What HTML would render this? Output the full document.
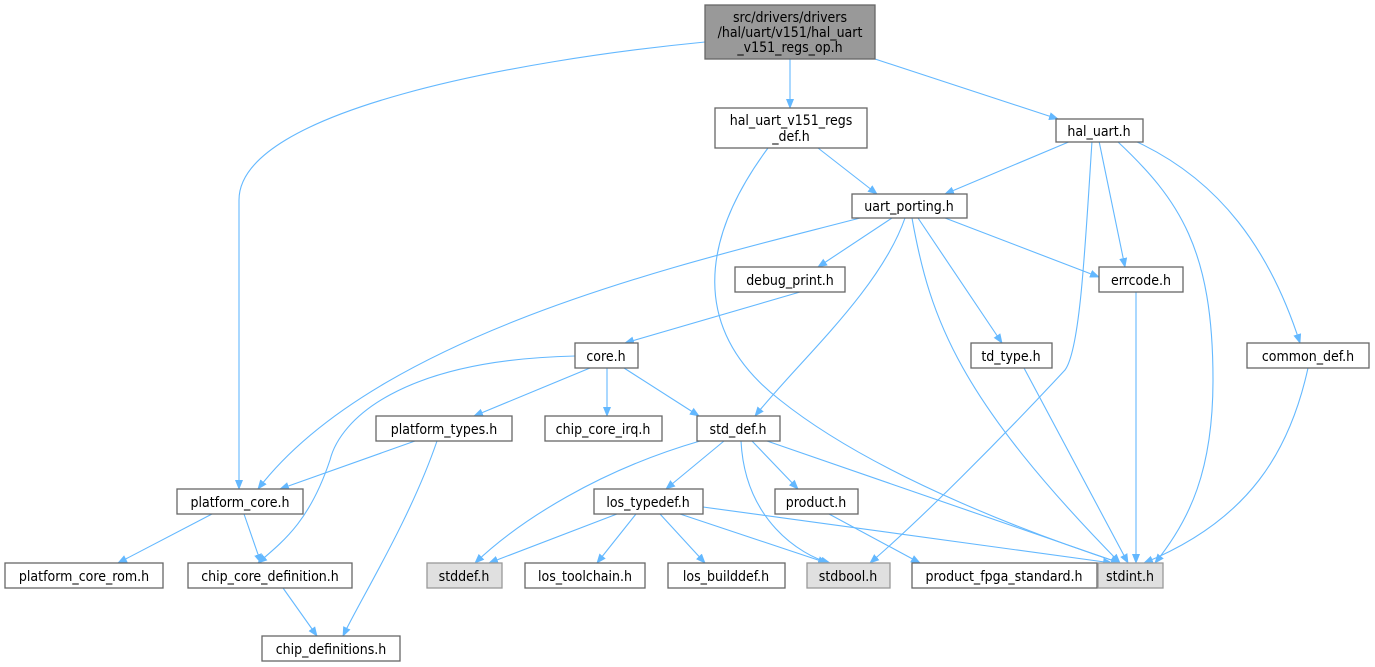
<!DOCTYPE html>
<html><head><meta charset="utf-8"><style>
html,body{margin:0;padding:0;background:#fff;}
svg{display:block;}
text{font-family:"DejaVu Sans Condensed","DejaVu Sans","Liberation Sans",sans-serif;font-size:14px;fill:#000;}
.n{fill:#fff;stroke:#666;stroke-width:1.3;}
.e{fill:none;stroke:#63b8ff;stroke-width:1.1;}
</style></head><body>
<svg width="1375" height="667" viewBox="0 0 1375 667" xmlns="http://www.w3.org/2000/svg">
<defs><marker id="a" markerWidth="10" markerHeight="10" refX="9" refY="5" orient="auto" markerUnits="userSpaceOnUse"><path d="M0,1 L10,5 L0,9 z" fill="#63b8ff"/></marker></defs>
<g class="e" marker-end="url(#a)">
<path d="M705,42 C520,60 239,110 239,200 L239,489"/>
<path d="M790,59 L790,108"/>
<path d="M875,59 L1058,119"/>
<path d="M818,148 L877,194"/>
<path d="M768,148 C700,240 690,330 780,400 C880,480 1050,540 1120,563"/>
<path d="M1071,141 L945,194"/>
<path d="M1099,141 L1125,267"/>
<path d="M1092,141 C1085,250 1080,350 1065,370 C1000,440 920,520 870,563"/>
<path d="M1117,141 C1180,200 1213,250 1213,380 C1213,470 1190,520 1155,563"/>
<path d="M1135,141 C1220,180 1270,250 1300,343"/>
<path d="M860,218 C700,260 380,330 258,489"/>
<path d="M892,218 L818,267"/>
<path d="M905,218 C880,290 800,360 755,416"/>
<path d="M918,218 L1002,343"/>
<path d="M912,218 C930,320 960,400 1120,563"/>
<path d="M945,218 L1099,277"/>
<path d="M800,292 L625,343"/>
<path d="M1136,292 L1136,563"/>
<path d="M1024,368 L1128,563"/>
<path d="M1308,368 C1290,450 1250,520 1144,563"/>
<path d="M575,356 C400,360 340,420 330,460 C310,520 285,540 258,563"/>
<path d="M590,368 L474,416"/>
<path d="M607,368 L607,416"/>
<path d="M624,368 L699,416"/>
<path d="M415,441 L280,489"/>
<path d="M437,441 C410,520 360,600 343,636"/>
<path d="M212,514 L118,563"/>
<path d="M244,514 L261,563"/>
<path d="M283,588 L317,636"/>
<path d="M700,441 C600,470 520,520 475,563"/>
<path d="M724,441 L666,489"/>
<path d="M741,441 C745,520 800,555 830,563"/>
<path d="M752,441 L798,489"/>
<path d="M767,441 L1120,563"/>
<path d="M617,514 L489,563"/>
<path d="M636,514 L597,563"/>
<path d="M660,514 L705,563"/>
<path d="M680,514 L827,563"/>
<path d="M703,507 L1112,563"/>
<path d="M829,514 L920,563"/>
</g>
<rect x="705" y="5" width="170" height="54" fill="#999" stroke="#666" stroke-width="1.3"/>
<text x="790" y="22" text-anchor="middle">src/drivers/drivers</text>
<text x="790" y="37" text-anchor="middle">/hal/uart/v151/hal_uart</text>
<text x="790" y="52" text-anchor="middle">_v151_regs_op.h</text>
<rect class="n" x="715" y="108" width="152" height="40"/>
<text x="791" y="125" text-anchor="middle">hal_uart_v151_regs</text>
<text x="791" y="141" text-anchor="middle">_def.h</text>
<g text-anchor="middle">
<rect class="n" x="1056" y="119" width="87" height="23"/><text x="1099" y="136">hal_uart.h</text>
<rect class="n" x="852" y="194" width="115" height="24"/><text x="909" y="211">uart_porting.h</text>
<rect class="n" x="735" y="267" width="110" height="25"/><text x="790" y="285">debug_print.h</text>
<rect class="n" x="1099" y="267" width="84" height="25"/><text x="1141" y="285">errcode.h</text>
<rect class="n" x="575" y="343" width="63" height="25"/><text x="606" y="361">core.h</text>
<rect class="n" x="971" y="343" width="81" height="25"/><text x="1011" y="361">td_type.h</text>
<rect class="n" x="1247" y="343" width="122" height="25"/><text x="1308" y="361">common_def.h</text>
<rect class="n" x="376" y="416" width="136" height="25"/><text x="444" y="434">platform_types.h</text>
<rect class="n" x="545" y="416" width="117" height="25"/><text x="603" y="434">chip_core_irq.h</text>
<rect class="n" x="697" y="416" width="83" height="25"/><text x="738" y="434">std_def.h</text>
<rect class="n" x="177" y="489" width="126" height="25"/><text x="240" y="507">platform_core.h</text>
<rect class="n" x="594" y="489" width="109" height="25"/><text x="648" y="507">los_typedef.h</text>
<rect class="n" x="775" y="489" width="83" height="25"/><text x="816" y="507">product.h</text>
<rect class="n" x="5" y="563" width="158" height="25"/><text x="84" y="581">platform_core_rom.h</text>
<rect class="n" x="188" y="563" width="164" height="25"/><text x="270" y="581">chip_core_definition.h</text>
<rect x="427" y="563" width="75" height="25" fill="#e0e0e0" stroke="#999" stroke-width="1.3"/><text x="464" y="581">stddef.h</text>
<rect class="n" x="525" y="563" width="120" height="25"/><text x="585" y="581">los_toolchain.h</text>
<rect class="n" x="668" y="563" width="117" height="25"/><text x="726" y="581">los_builddef.h</text>
<rect x="807" y="563" width="83" height="25" fill="#e0e0e0" stroke="#999" stroke-width="1.3"/><text x="848" y="581">stdbool.h</text>
<rect class="n" x="912" y="563" width="185" height="25"/><text x="1004" y="581">product_fpga_standard.h</text>
<rect x="1098" y="563" width="65" height="25" fill="#e0e0e0" stroke="#999" stroke-width="1.3"/><text x="1130" y="581">stdint.h</text>
<rect class="n" x="262" y="636" width="138" height="25"/><text x="331" y="654">chip_definitions.h</text>
</g>
</svg>
</body></html>
